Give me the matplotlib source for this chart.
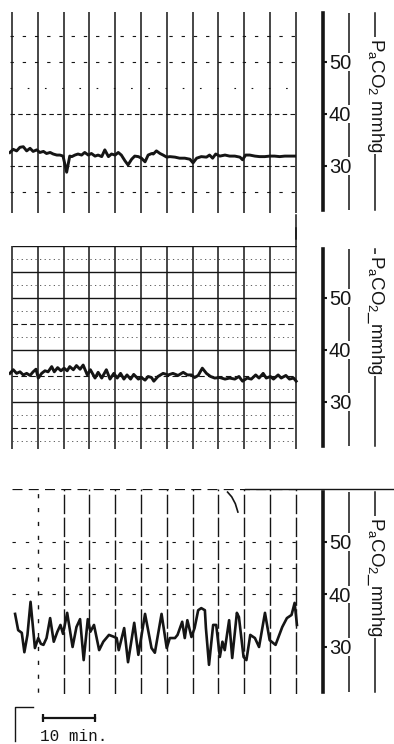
import matplotlib
matplotlib.use("Agg")
import matplotlib.pyplot as plt
import matplotlib.transforms as mtransforms

plt.rcParams['font.family'] = ['Liberation Sans', 'DejaVu Sans']

# --- data (time in min, PaCO2 in mmHg) ---
top_min = [-0.4, 0.25, 0.9, 1.55, 2.2, 2.85, 3.5, 4.1, 4.8, 5.4, 6.1, 6.7, 7.4, 8.0, 8.7, 9.3,
           9.9, 10.6, 11.2, 11.6, 12.2, 12.8, 13.5, 14.1, 14.8, 15.4, 16.1, 16.7, 17.4, 18.0,
           18.7, 19.3, 20.0, 20.6, 21.2, 21.9, 22.5, 23.2, 23.8, 24.5, 25.1, 25.8, 26.4, 27.1,
           27.4, 28.0, 28.7, 29.3, 30.0, 30.6, 31.6, 32.5, 33.5, 34.5, 35.1, 35.8, 36.7, 37.7,
           38.3, 38.9, 39.5, 40.3, 41.3, 42.2, 43.2, 44.2, 44.7, 45.3, 46.1, 47.1, 48.0, 49.0,
           50.0, 50.9, 51.9, 52.9, 53.8, 54.8]
top_co2 = [32.6, 33.2, 32.9, 33.6, 33.7, 32.9, 33.4, 32.8, 33.1, 32.6, 32.8, 32.4, 32.6, 32.3,
           32.1, 32.1, 31.9, 28.8, 31.9, 31.8, 32.1, 32.3, 32.1, 32.6, 32.1, 32.4, 31.9, 32.1,
           31.8, 33.1, 31.8, 32.3, 32.1, 32.6, 32.1, 31.0, 30.2, 31.3, 31.9, 31.8, 31.5, 30.8,
           32.1, 32.4, 32.3, 32.9, 32.4, 32.1, 31.7, 31.8, 31.7, 31.5, 31.5, 31.3, 30.6, 31.5,
           31.8, 31.7, 32.1, 31.5, 32.3, 31.9, 32.1, 31.9, 31.9, 31.7, 31.2, 32.1, 32.1, 31.9,
           31.8, 31.8, 31.9, 31.9, 31.8, 31.9, 31.9, 31.9]

mid_min = [-0.4, 0.25, 0.9, 1.55, 2.2, 2.85, 3.5, 4.1, 4.65, 5.1, 5.75, 6.4, 7.0, 7.7, 8.2,
           8.85, 9.5, 10.1, 10.7, 11.2, 11.9, 12.5, 13.2, 13.8, 14.6, 15.2, 16.1, 16.7, 17.4,
           18.3, 19.0, 19.75, 20.4, 21.05, 21.7, 22.3, 23.0, 23.6, 24.5, 25.1, 25.8, 26.4, 27.05,
           27.5, 28.3, 29.3, 30.3, 31.2, 32.2, 33.2, 34.0, 34.8, 35.4, 36.1, 36.9, 37.7, 38.5,
           39.3, 40.3, 41.3, 42.2, 43.2, 44.0, 44.7, 45.6, 46.4, 47.25, 47.9, 48.7, 49.3, 50.1,
           50.7, 51.6, 52.2, 53.1, 53.8, 54.6, 55.1]
mid_co2 = [35.5, 36.2, 35.5, 35.8, 35.2, 35.5, 35.1, 35.8, 36.3, 34.6, 35.5, 36.0, 35.8, 36.8,
           35.8, 36.6, 36.0, 36.5, 36.0, 36.8, 36.2, 37.0, 36.3, 37.1, 35.2, 36.2, 34.6, 35.7,
           34.6, 36.2, 34.4, 35.5, 34.6, 35.5, 34.4, 35.2, 34.4, 35.3, 34.4, 34.7, 34.2, 34.9,
           34.7, 34.0, 34.9, 35.5, 35.2, 35.5, 35.1, 35.7, 35.2, 35.2, 34.7, 35.1, 36.5, 35.5,
           34.9, 34.6, 34.7, 34.4, 34.6, 34.4, 34.9, 34.0, 34.6, 34.4, 35.2, 34.6, 35.5, 34.6,
           34.9, 34.4, 35.2, 34.6, 35.1, 34.4, 34.6, 34.0]

bot_min = [0.6, 1.2, 1.9, 2.4, 3.0, 3.6, 4.45, 5.1, 5.6, 6.1, 6.7, 7.4, 8.1, 8.8, 9.4, 9.9,
           10.7, 11.75, 12.5, 13.2, 13.9, 14.7, 15.2, 15.9, 16.9, 17.7, 18.8, 19.6, 20.3, 20.7,
           21.75, 22.5, 23.7, 24.5, 25.8, 27.05, 27.7, 29.0, 30.0, 30.6, 31.6, 32.1, 33.0, 33.5,
           34.0, 34.8, 35.4, 36.1, 36.7, 37.4, 37.6, 38.2, 39.0, 39.6, 40.3, 40.8, 41.25, 42.1,
           42.7, 43.6, 44.0, 44.9, 45.45, 46.2, 47.1, 47.9, 49.05, 49.96, 51.1, 52.4, 53.3, 54.2,
           54.8, 55.25]
bot_co2 = [36.3, 33.2, 32.7, 29.0, 32.3, 38.6, 29.8, 31.7, 30.6, 30.4, 31.7, 35.5, 31.0, 32.9,
           34.2, 32.5, 36.5, 30.0, 33.8, 35.3, 27.5, 35.3, 32.9, 34.2, 29.4, 31.0, 32.3, 32.0,
           31.7, 29.4, 33.6, 27.1, 34.6, 28.5, 36.3, 29.8, 28.9, 36.3, 29.8, 31.7, 31.7, 32.3,
           34.8, 31.7, 35.1, 31.9, 33.6, 37.0, 37.4, 37.0, 33.6, 26.6, 34.2, 34.2, 28.1, 31.0,
           29.4, 35.1, 27.9, 36.5, 35.7, 28.1, 27.5, 32.3, 31.7, 30.0, 36.5, 31.3, 30.4, 33.8,
           35.5, 36.1, 38.4, 34.2]

# stray pen stroke near the top of the last record
stroke_min = [41.8, 42.6, 43.3, 43.8]
stroke_co2 = [59.5, 58.6, 57.3, 55.7]

grid_min = [0, 5, 10, 15, 20, 25, 30, 35, 40, 45, 50, 55]
ticks = [30, 40, 50]
tick_labels = ["30", "40", "50"]
titles = [r"$\mathregular{P_aCO_2}$ mmhg",
          r"$\mathregular{P_aCO_2}$_mmhg",
          r"$\mathregular{P_aCO_2}$_mmhg"]
title_y = [43.5, 46.7, 43.3]
scale_min = [6, 16]

INK = "#151515"

fig = plt.figure(figsize=(3.94, 7.44), dpi=100)
left = 9.4 / 394
width = (323 - 9.4) / 394
ax1 = fig.add_axes([left, 0.7140, width, 0.2726])
ax2 = fig.add_axes([left, 0.3968, width, 0.2726])
ax3 = fig.add_axes([left, 0.0669, width, 0.2752])


def setup(ax, title, ty):
    ax.set_xlim(-0.5, 60.3)
    ax.set_ylim(21, 60)
    for s in ['left', 'top', 'bottom']:
        ax.spines[s].set_visible(False)
    ax.spines['right'].set_linewidth(2.6)
    ax.spines['right'].set_color(INK)
    ax.spines['right'].set_bounds(21.5, 59.5)
    ax.set_xticks([])
    ax.yaxis.tick_right()
    ax.set_yticks(ticks)
    ax.set_yticklabels(tick_labels, fontsize=14.5)
    ax.tick_params(axis='y', length=3, width=1.5, pad=1.2, color=INK, labelcolor=INK)
    trans = mtransforms.blended_transform_factory(ax.transAxes, ax.transData)
    # scale line beside the numbers, broken where each number sits
    edges = [21.5] + [v for t in ticks for v in (t - 1.7, t + 1.7)] + [59.5]
    ax.vlines([1.083] * (len(edges) // 2), edges[0::2], edges[1::2], transform=trans,
              clip_on=False, color=INK, lw=1.1, zorder=1)
    ax.plot([1.166, 1.166], [21.5, 59.5], transform=trans, clip_on=False,
            color=INK, lw=1.1, zorder=1)
    ax.text(1.166, ty, title, transform=trans, rotation=270, ha='center', va='center',
            fontsize=13.5, color=INK, zorder=3,
            bbox=dict(facecolor='white', edgecolor='none', pad=1))
    ax.set_facecolor('none')


for ax, t, ty in zip([ax1, ax2, ax3], titles, title_y):
    setup(ax, t, ty)

# ---- top record ----
ax1.vlines(grid_min, 20.6, 59.6, color=INK, lw=1.1)
ax1.plot([55, 55], [20.6, 16.0], color=INK, lw=1.1, clip_on=False)
ax1.hlines([40, 30], -0.3, 55, color=INK, lw=0.8, linestyles=[(0, (4, 3))])
ax1.hlines([55, 50, 25], -0.3, 55, color=INK, lw=0.8, linestyles=[(0, (3, 8))])
ax1.hlines([45], -0.3, 55, color=INK, lw=0.8, linestyles=[(0, (1.5, 14))])
ax1.plot(top_min, top_co2, color=INK, lw=2.1, solid_joinstyle='round')

# ---- middle record ----
ax2.vlines(grid_min, 20.5, 60, color=INK, lw=1.1)
ax2.plot([55, 55], [60, 63.5], color=INK, lw=1.1, clip_on=False)
ax2.hlines([60, 55, 50, 40, 30], 0, 55, color=INK, lw=1.0)
ax2.hlines([45, 35, 25], 0, 55, color=INK, lw=0.8, linestyles=[(0, (5, 3))])
ax2.hlines([57.5, 52.5, 47.5, 42.5, 32.5, 27.5, 22.5], 0, 55, color="#444444", lw=0.6,
           linestyles=[(0, (1.5, 4))])
ax2.plot(mid_min, mid_co2, color=INK, lw=2.1, solid_joinstyle='round')

# ---- bottom record ----
ax3.vlines(grid_min[2:], 20.5, 60, color=INK, lw=1.0, linestyles=[(0, (14, 2.5))])
ax3.vlines([grid_min[1]], 16.0, 60, color=INK, lw=1.0, linestyles=[(0, (3, 7))])
ax3.hlines([60], 0, 55, color=INK, lw=0.9, linestyles=[(0, (8, 5))])
ax3.hlines([50, 45, 40], 0, 55, color=INK, lw=0.8, linestyles=[(0, (3, 9))])
trans3 = mtransforms.blended_transform_factory(ax3.transAxes, ax3.transData)
ax3.plot([0.751, 1.23], [60, 60], transform=trans3, color=INK, lw=1.0, clip_on=False)
ax3.plot(stroke_min, stroke_co2, color=INK, lw=1.2)
ax3.plot(bot_min, bot_co2, color=INK, lw=1.9, solid_joinstyle='round')

# scale bar
ax3.plot(scale_min, [16.5, 16.5], color=INK, lw=1.6, clip_on=False,
         marker='|', markersize=6, markeredgewidth=1.6)
ax3.text(scale_min[0] - 0.6, 13.0, "10 min.", fontsize=11.5, family='Liberation Mono',
         ha='left', va='center', color=INK, clip_on=False)
ax3.plot([0.6, 0.6, 4.1], [12.0, 18.6, 18.6], color=INK, lw=1.0, clip_on=False)

fig.savefig("out.png", dpi=100)
